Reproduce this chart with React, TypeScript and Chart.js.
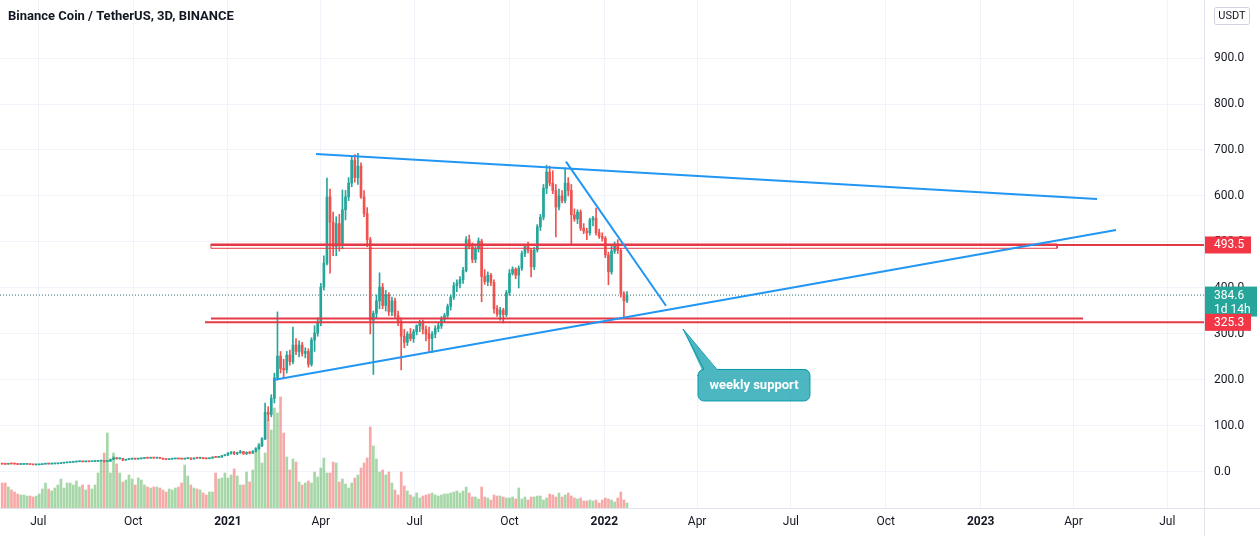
import React, { useEffect, useRef } from "react";
import { Chart, registerables } from "chart.js";

Chart.register(...registerables);

// ---------- time axis (days counted from 2021-01-01) ----------
const FIRST_CANDLE_DAY = -219; // 2020-05-27, 3D candles
const CANDLE_STEP_DAYS = 3;
const X_MIN_DAY = -221.1;
const X_MAX_DAY = 946.6;
const timeTickDays = [-184, -92, 0, 90, 181, 273, 365, 455, 546, 638, 730, 820, 911];
const timeTickLabels = ["Jul", "Oct", "2021", "Apr", "Jul", "Oct", "2022", "Apr", "Jul", "Oct", "2023", "Apr", "Jul"];

// ---------- price axis ----------
const PRICE_MIN = -78.3;
const PRICE_MAX = 1026.1;
const priceTicks = [0, 100, 200, 300, 400, 500, 600, 700, 800, 900];
const VOLUME_AXIS_MAX = 508;

// ---------- candles [open, high, low, close] ----------
const ohlc: number[][] = [
  [17.6, 18.2, 16.8, 17.2], [17.2, 17.5, 16.5, 16.9], [16.9, 18.3, 16.8, 17.8], [17.8, 18.1, 17.2, 17.6],
  [17.6, 17.9, 17.0, 17.4], [17.4, 17.5, 16.0, 16.4], [16.4, 16.9, 16.1, 16.6], [16.6, 17.0, 16.3, 16.7],
  [16.7, 17.3, 16.5, 16.9], [16.9, 17.0, 16.0, 16.3], [16.3, 16.5, 15.2, 15.6], [15.6, 15.9, 15.1, 15.7],
  [15.7, 16.3, 15.5, 16.1], [16.1, 17.4, 16.0, 17.1], [17.1, 18.0, 16.9, 17.6], [17.6, 17.8, 17.0, 17.4],
  [17.4, 17.9, 17.1, 17.7], [17.7, 18.2, 17.4, 17.9], [17.9, 18.7, 17.7, 18.4], [18.4, 19.5, 18.2, 19.2],
  [19.2, 20.6, 19.0, 20.1], [20.1, 21.0, 19.6, 20.4], [20.4, 21.6, 20.0, 21.2], [21.2, 22.2, 20.8, 21.8],
  [21.8, 23.0, 21.5, 22.4], [22.4, 23.4, 22.0, 22.9], [22.9, 23.1, 21.6, 22.2], [22.2, 23.0, 21.9, 22.7],
  [22.7, 23.0, 22.0, 22.4], [22.4, 23.3, 22.2, 22.9], [22.9, 23.6, 22.6, 23.2], [23.2, 23.8, 22.9, 23.5],
  [23.5, 25.8, 23.3, 24.6], [24.6, 25.0, 21.5, 22.8], [22.8, 24.0, 22.3, 23.4], [23.4, 28.5, 23.2, 27.2],
  [27.2, 33.0, 26.8, 30.1], [30.1, 31.5, 27.9, 28.8], [28.8, 30.2, 28.0, 29.4], [29.4, 29.8, 24.5, 25.8],
  [25.8, 27.5, 25.0, 27.1], [27.1, 28.5, 26.6, 28.0], [28.0, 29.3, 27.5, 28.9], [28.9, 29.2, 27.6, 28.1],
  [28.1, 29.0, 27.8, 28.7], [28.7, 29.9, 28.4, 29.5], [29.5, 31.0, 29.2, 30.4], [30.4, 31.2, 29.7, 30.1],
  [30.1, 31.4, 29.9, 30.9], [30.9, 31.1, 29.8, 30.2], [30.2, 31.0, 29.9, 30.5], [30.5, 30.8, 29.3, 29.8],
  [29.8, 30.0, 27.2, 27.7], [27.7, 28.1, 26.5, 27.0], [27.0, 28.3, 26.8, 27.9], [27.9, 29.0, 27.6, 28.6],
  [28.6, 29.4, 28.3, 28.9], [28.9, 29.2, 28.1, 28.5], [28.5, 28.8, 27.6, 28.1], [28.1, 29.5, 27.9, 29.0],
  [29.0, 31.0, 28.8, 30.2], [30.2, 30.6, 26.5, 28.2], [28.2, 30.8, 27.9, 30.3], [30.3, 30.7, 29.2, 29.9],
  [29.9, 31.2, 29.6, 30.6], [30.6, 30.9, 28.6, 29.1], [29.1, 29.5, 28.2, 28.8], [28.8, 30.3, 28.6, 29.9],
  [29.9, 33.0, 29.7, 32.4], [32.4, 33.2, 31.3, 31.8], [31.8, 32.8, 31.2, 32.0], [32.0, 36.0, 31.8, 35.4],
  [35.4, 38.0, 34.8, 37.2],
  // 2021
  [37.2, 42.0, 35.5, 41.0], [41.0, 44.5, 38.5, 42.3], [42.3, 45.0, 37.8, 40.1], [40.1, 43.2, 37.5, 42.0],
  [42.0, 47.0, 40.5, 44.2], [44.2, 45.0, 38.0, 40.0], [40.0, 44.0, 37.5, 42.5], [42.5, 44.5, 39.5, 41.0],
  [41.0, 46.5, 40.2, 44.5], [44.5, 53.0, 43.5, 51.0], [51.0, 60.0, 49.0, 57.0], [57.0, 75.0, 55.0, 72.0],
  [72.0, 150.0, 70.0, 130.0], [130.0, 142.0, 112.0, 125.0], [125.0, 168.0, 120.0, 160.0], [160.0, 215.0, 150.0, 205.0],
  [205, 348, 200, 252], [252, 262, 215, 225], [225, 245, 205, 222], [222, 262, 215, 254],
  [254, 265, 232, 240], [240, 315, 235, 276], [276, 290, 255, 262], [262, 285, 250, 276],
  [276, 282, 252, 258], [258, 270, 248, 262], [262, 268, 228, 234], [234, 292, 230, 287],
  [287, 318, 262, 302], [302, 335, 295, 324], [324, 410, 318, 402], [402, 470, 395, 454],
  [454, 639, 450, 598], [598, 615, 432, 543], [543, 565, 470, 490], [490, 555, 470, 540],
  [540, 560, 480, 492], [492, 613, 485, 570], [570, 612, 548, 598], [598, 640, 590, 628],
  [628, 685, 620, 678], [678, 690, 630, 640], [640, 693, 625, 665], [665, 672, 595, 598],
  [598, 612, 555, 562], [562, 575, 490, 505], [505, 510, 300, 330],
  [330, 350, 212, 345], [345, 385, 335, 372], [372, 433, 355, 402], [402, 410, 355, 362],
  [362, 395, 350, 385], [385, 390, 340, 348], [348, 380, 340, 372], [372, 378, 335, 340],
  [340, 350, 318, 328], [328, 335, 222, 295], [295, 310, 270, 282], [282, 305, 275, 300],
  [300, 312, 285, 290], [290, 310, 282, 305], [305, 320, 298, 318], [318, 330, 305, 325],
  [325, 330, 300, 310], [310, 318, 285, 300],
  [300, 315, 262, 290], [290, 305, 260, 300], [300, 318, 292, 312], [312, 325, 305, 318],
  [318, 338, 312, 332], [332, 345, 325, 340], [340, 365, 335, 360], [360, 385, 352, 380],
  [380, 412, 375, 405], [405, 418, 392, 410], [410, 425, 400, 418], [418, 445, 410, 438],
  [438, 512, 435, 505], [505, 515, 485, 490], [490, 498, 455, 462], [462, 490, 455, 485],
  [485, 509, 478, 502], [502, 506, 370, 425], [425, 440, 408, 414], [414, 435, 405, 428],
  [428, 432, 405, 412], [412, 418, 345, 355], [355, 362, 338, 343], [343, 358, 330, 352],
  [352, 356, 324, 342], [342, 395, 338, 390], [390, 440, 384, 432], [432, 446, 428, 441],
  [441, 444, 420, 428], [428, 448, 400, 443], [443, 480, 438, 475], [475, 495, 468, 490],
  [490, 500, 476, 482], [482, 486, 424, 446], [446, 488, 440, 483], [483, 538, 478, 533],
  [533, 560, 525, 554], [554, 625, 548, 617], [617, 667, 605, 652], [652, 665, 622, 628],
  [628, 655, 605, 612], [612, 625, 511, 576], [576, 615, 570, 600], [600, 612, 585, 590],
  [590, 661, 585, 628], [628, 640, 600, 612], [612, 625, 493, 559], [559, 572, 545, 550],
  [550, 570, 540, 565], [565, 570, 525, 530], [530, 540, 518, 524], [524, 530, 505, 520],
  [520, 552, 515, 548], [548, 556, 535, 552], [552, 574, 515, 520], [520, 528, 508, 512],
  [512, 520, 502, 508], [508, 512, 466, 472], [472, 478, 407, 435], [435, 492, 430, 480],
  [480, 500, 475, 492], [492, 505, 475, 482], [482, 486, 380, 388], [388, 392, 335, 372],
  [372, 392, 368, 384.6],
];

const volumes: number[] = [
  25, 25, 21,
  18, 16, 14, 13, 13, 12, 12, 11, 12, 14,
  19, 25, 19, 17, 20, 23, 29, 20, 25,
  25, 23, 27, 21, 23, 18, 23, 19, 23, 35,
  46, 55, 75, 35, 55, 44, 35,
  26, 28, 33, 29, 23, 30, 28, 23, 21, 20,
  21, 21, 20, 18, 16, 19, 18, 20, 21, 25, 43, 32, 23, 20, 19, 18, 15, 13, 16, 16,
  35, 29, 30, 35, 30, 33, 39, 32, 23, 23, 36, 26,
  38, 56, 65, 45, 55, 88, 78, 100, 95, 111, 75, 51,
  38, 49, 46, 26, 23, 25, 27, 25, 36, 31, 40, 50, 35, 35, 46, 45,
  26, 29, 24, 20, 25, 30, 33, 40, 45, 50, 81, 62, 49, 36, 38, 33, 36, 25, 18, 13,
  36, 22, 17, 13, 11, 15, 10, 12, 13, 14,
  15, 13, 12, 13, 14, 14, 15, 16, 17, 15,
  17, 21, 15, 11, 11, 9, 21, 11, 10, 8,
  13, 12, 12, 11, 10, 10, 11, 9, 20, 9,
  11, 8, 11, 11, 12, 12, 8, 10, 14, 13,
  11, 15, 11, 13, 15, 12, 10, 9, 10, 7,
  7, 8, 7, 8, 5, 8, 10, 9, 8, 6,
  10, 16, 8, 5,
];

// ---------- drawings ----------
const upperTrendLine = [{ x: 85.4, y: 691.3 }, { x: 842.9, y: 593.5 }];
const supportTrendLine = [{ x: 43.9, y: 200 }, { x: 861.3, y: 526.1 }];
const fastTrendLine = [{ x: 327.8, y: 674.6 }, { x: 424.8, y: 361.3 }];
const resistanceLevel = 493.5;
const resistanceStartDay = -16.5;
const resistanceZone = { x1: -16.5, x2: 804.1, y1: 495.7, y2: 486.3 };
const supportLevel = 325.3;
const supportStartDay = -22.3;
const supportZoneLine = [{ x: -16.5, y: 333.7 }, { x: 829.3, y: 333.7 }];
const lastPrice = 384.6;
const countdownText = "1d 14h";
const calloutTip = { x: 441.3, y: 310.9 };
const calloutText = "weekly support";
const titleText = "Binance Coin / TetherUS, 3D, BINANCE";
const currencyText = "USDT";

const UP = "#26a69a";
const DOWN = "#ef5350";
const BLUE = "#2196f3";
const RED = "#e53945";
const FONT = "Roboto, 'Noto Sans', sans-serif";

function roundRectPath(ctx: CanvasRenderingContext2D, x: number, y: number, w: number, h: number, r: number) {
  ctx.moveTo(x + r, y);
  ctx.lineTo(x + w - r, y);
  ctx.arcTo(x + w, y, x + w, y + r, r);
  ctx.lineTo(x + w, y + h - r);
  ctx.arcTo(x + w, y + h, x + w - r, y + h, r);
  ctx.lineTo(x + r, y + h);
  ctx.arcTo(x, y + h, x, y + h - r, r);
  ctx.lineTo(x, y + r);
  ctx.arcTo(x, y, x + r, y, r);
  ctx.closePath();
}

const overlayPlugin = {
  id: "tvOverlay",
  afterDraw(chart: any) {
    const ctx: CanvasRenderingContext2D = chart.ctx;
    const xs = chart.scales.x;
    const ys = chart.scales.y;
    const area = chart.chartArea;
    ctx.save();

    // panel separators
    ctx.strokeStyle = "#e0e3eb";
    ctx.lineWidth = 1;
    ctx.beginPath();
    const rx = Math.round(area.right) + 0.5;
    const by = Math.round(area.bottom) + 0.5;
    ctx.moveTo(rx, 0);
    ctx.lineTo(rx, chart.height);
    ctx.moveTo(0, by);
    ctx.lineTo(chart.width, by);
    ctx.stroke();

    // title
    ctx.fillStyle = "#131722";
    ctx.font = `bold 13px ${FONT}`;
    ctx.textBaseline = "middle";
    ctx.textAlign = "left";
    ctx.fillText(titleText, 8, 16.5);

    // currency box
    ctx.beginPath();
    roundRectPath(ctx, 1214.5, 7.5, 35, 17, 2);
    ctx.fillStyle = "#ffffff";
    ctx.fill();
    ctx.strokeStyle = "#d1d4dc";
    ctx.stroke();
    ctx.fillStyle = "#131722";
    ctx.font = `11px ${FONT}`;
    ctx.textAlign = "center";
    ctx.fillText(currencyText, 1232, 16.5);

    // price tags
    const tagLeft = area.right + 1;
    ctx.textAlign = "left";
    ctx.font = `12px ${FONT}`;
    const yr = ys.getPixelForValue(resistanceLevel);
    ctx.fillStyle = "#f23645";
    ctx.fillRect(tagLeft, yr - 8.5, 46, 17);
    ctx.fillStyle = "#ffffff";
    ctx.fillText(resistanceLevel.toFixed(1), tagLeft + 9, yr + 0.5);

    const yl = ys.getPixelForValue(lastPrice);
    ctx.fillStyle = UP;
    ctx.fillRect(tagLeft, yl - 8.5, 52, 30);
    ctx.fillStyle = "#ffffff";
    ctx.fillText(lastPrice.toFixed(1), tagLeft + 9, yl + 0.5);
    ctx.fillText(countdownText, tagLeft + 9, yl + 15);

    const ys2 = ys.getPixelForValue(supportLevel);
    ctx.fillStyle = "#f23645";
    ctx.fillRect(tagLeft, ys2 - 8.5, 46, 17);
    ctx.fillStyle = "#ffffff";
    ctx.fillText(supportLevel.toFixed(1), tagLeft + 9, ys2 + 0.5);

    // callout
    const tx = xs.getPixelForValue(calloutTip.x);
    const ty = ys.getPixelForValue(calloutTip.y);
    const bx = tx + 15;
    const byy = ty + 40;
    const bw = 112;
    const bh = 32;
    ctx.beginPath();
    roundRectPath(ctx, bx, byy, bw, bh, 6);
    ctx.moveTo(bx + 4, byy + 1);
    ctx.lineTo(tx, ty);
    ctx.lineTo(bx + 19, byy + 1);
    ctx.closePath();
    ctx.fillStyle = "rgba(0,151,167,0.7)";
    ctx.fill();
    ctx.beginPath();
    ctx.moveTo(bx + 19, byy + 0.5);
    ctx.lineTo(bx + bw - 6, byy + 0.5);
    ctx.arcTo(bx + bw, byy + 0.5, bx + bw, byy + 6, 6);
    ctx.lineTo(bx + bw, byy + bh - 6);
    ctx.arcTo(bx + bw, byy + bh, bx + bw - 6, byy + bh, 6);
    ctx.lineTo(bx + 6, byy + bh);
    ctx.arcTo(bx, byy + bh, bx, byy + bh - 6, 6);
    ctx.lineTo(bx, byy + 6);
    ctx.arcTo(bx, byy + 0.5, bx + 4, byy + 0.5, 6);
    ctx.lineTo(tx, ty);
    ctx.closePath();
    ctx.strokeStyle = "rgba(0,151,167,0.9)";
    ctx.lineWidth = 1;
    ctx.stroke();
    ctx.fillStyle = "#ffffff";
    ctx.font = `bold 13px ${FONT}`;
    ctx.textAlign = "center";
    ctx.fillText(calloutText, bx + bw / 2, byy + bh / 2 + 0.5);

    ctx.restore();
  },
};

export default function App() {
  const canvasRef = useRef<HTMLCanvasElement | null>(null);

  useEffect(() => {
    document.body.style.margin = "0";
    const canvas = canvasRef.current;
    if (!canvas) return;

    const days = ohlc.map((_, i) => FIRST_CANDLE_DAY + i * CANDLE_STEP_DAYS);
    const isUp = ohlc.map((r) => r[3] >= r[0]);
    const candleColors = isUp.map((u) => (u ? UP : DOWN));
    const volumeColors = isUp.map((u) => (u ? "rgba(76,175,80,0.5)" : "rgba(239,83,80,0.5)"));

    const lineDs = (data: any[], color: string, width: number, extra: any = {}) => ({
      type: "line",
      data,
      borderColor: color,
      borderWidth: width,
      pointRadius: 0,
      fill: false,
      tension: 0,
      yAxisID: "y",
      order: 0,
      ...extra,
    });

    const chart = new Chart(canvas, {
      type: "bar",
      data: {
        datasets: [
          lineDs(upperTrendLine, BLUE, 2),
          lineDs(supportTrendLine, BLUE, 2),
          lineDs(fastTrendLine, BLUE, 2),
          lineDs(
            [
              { x: resistanceZone.x1, y: resistanceZone.y1 },
              { x: resistanceZone.x2, y: resistanceZone.y1 },
              { x: resistanceZone.x2, y: resistanceZone.y2 },
              { x: resistanceZone.x1, y: resistanceZone.y2 },
              { x: resistanceZone.x1, y: resistanceZone.y1 },
            ],
            RED,
            1
          ),
          lineDs([{ x: resistanceStartDay, y: resistanceLevel }, { x: X_MAX_DAY, y: resistanceLevel }], RED, 2),
          lineDs(supportZoneLine, RED, 2),
          lineDs([{ x: supportStartDay, y: supportLevel }, { x: X_MAX_DAY, y: supportLevel }], RED, 2),
          lineDs([{ x: X_MIN_DAY, y: lastPrice }, { x: X_MAX_DAY, y: lastPrice }], "#2b6f73", 1, {
            borderDash: [1, 2],
            order: 6,
          }),
          {
            type: "bar",
            data: days.map((d, i) => ({ x: d, y: [ohlc[i][0], ohlc[i][3]] })),
            backgroundColor: candleColors,
            barThickness: 2,
            minBarLength: 1,
            grouped: false,
            yAxisID: "y",
            order: 2,
          },
          {
            type: "bar",
            data: days.map((d, i) => ({ x: d, y: [ohlc[i][2], ohlc[i][1]] })),
            backgroundColor: candleColors,
            barThickness: 1,
            grouped: false,
            yAxisID: "y",
            order: 3,
          },
          {
            type: "bar",
            data: days.map((d, i) => ({ x: d, y: volumes[i] })),
            backgroundColor: volumeColors,
            barThickness: 2,
            grouped: false,
            yAxisID: "vol",
            order: 7,
          },
        ] as any,
      },
      options: {
        responsive: false,
        animation: false,
        events: [],
        layout: { padding: 0 },
        plugins: { legend: { display: false }, tooltip: { enabled: false } },
        scales: {
          x: {
            type: "linear",
            min: X_MIN_DAY,
            max: X_MAX_DAY,
            offset: false,
            afterBuildTicks: (s: any) => {
              s.ticks = timeTickDays.map((v) => ({ value: v }));
            },
            afterFit: (s: any) => {
              s.height = 28;
              s.paddingLeft = 0;
              s.paddingRight = 0;
              s.paddingTop = 0;
              s.paddingBottom = 0;
            },
            grid: { color: "#f0f3fa", drawTicks: false, offset: false },
            border: { display: false },
            ticks: {
              autoSkip: false,
              maxRotation: 0,
              minRotation: 0,
              padding: 7,
              color: "#131722",
              font: (c: any) => {
                const lbl = timeTickLabels[c.index] || "";
                return { family: FONT, size: 12, weight: /^\d{4}$/.test(lbl) ? "bold" : "normal" };
              },
              callback: (_v: any, i: number) => timeTickLabels[i],
            },
          },
          y: {
            type: "linear",
            position: "right",
            min: PRICE_MIN,
            max: PRICE_MAX,
            afterBuildTicks: (s: any) => {
              s.ticks = priceTicks.map((v) => ({ value: v }));
            },
            afterFit: (s: any) => {
              s.width = 56;
              s.paddingTop = 0;
              s.paddingBottom = 0;
              s.paddingLeft = 0;
              s.paddingRight = 0;
            },
            grid: { color: "#f0f3fa", drawTicks: false },
            border: { display: false },
            ticks: {
              padding: 10,
              color: "#131722",
              font: { family: FONT, size: 12 },
              callback: (v: any) => Number(v).toFixed(1),
            },
          },
          vol: {
            type: "linear",
            display: false,
            min: 0,
            max: VOLUME_AXIS_MAX,
          },
        },
      } as any,
      plugins: [overlayPlugin],
    });

    return () => chart.destroy();
  }, []);

  return (
    <div style={{ width: 1260, height: 536, background: "#ffffff" }}>
      <canvas ref={canvasRef} width={1260} height={536} style={{ display: "block" }} />
    </div>
  );
}
